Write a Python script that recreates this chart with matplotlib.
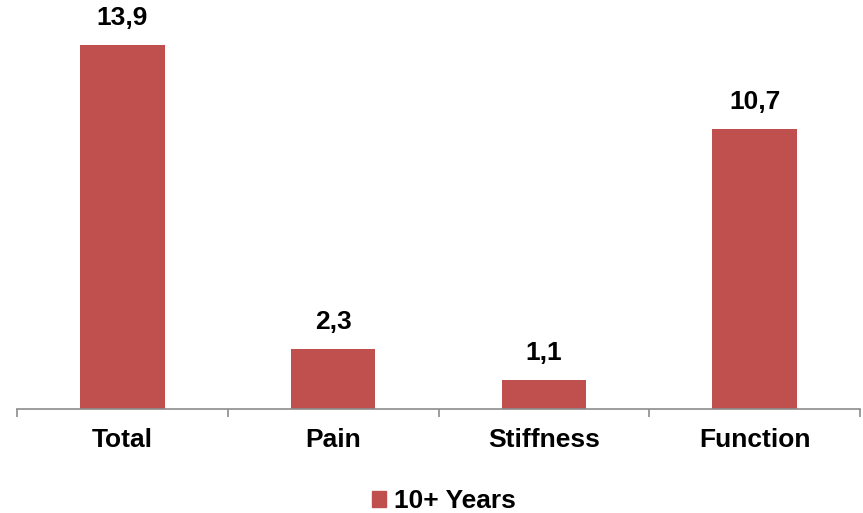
import matplotlib.pyplot as plt
from matplotlib.patches import Patch

plt.rcParams['font.family'] = ['Liberation Sans', 'DejaVu Sans']

# --- data ---
categories = ["Total", "Pain", "Stiffness", "Function"]
values = [13.9, 2.3, 1.1, 10.7]
series_name = "10+ Years"
bar_color = "#C0504D"
axis_color = "#8C8C8C"
FS = 19

fig = plt.figure(figsize=(8.63, 5.13), dpi=100)
ax = fig.add_axes([17 / 863, 104 / 513, 843 / 863, 409 / 513])

x = range(len(categories))
bars = ax.bar(x, values, width=0.4, color=bar_color)

# value labels above bars, decimal comma
for b, v in zip(bars, values):
    ax.annotate(f"{v:.1f}".replace(".", ","),
                (b.get_x() + b.get_width() / 2, b.get_height()),
                xytext=(0, 14.4), textcoords="offset points",
                ha="center", va="baseline", fontsize=FS, fontweight="bold")

ax.set_xlim(-0.5, len(categories) - 0.5)
ax.set_ylim(0, 15.62)

# category boundary ticks on the baseline
ax.set_xticks([i - 0.5 for i in range(len(categories) + 1)])
ax.set_xticklabels([])
ax.set_xticks(list(x), minor=True)
ax.set_xticklabels(categories, minor=True, fontsize=FS, fontweight="bold")
ax.tick_params(axis="x", which="major", length=6, width=1.2, color=axis_color, direction="out")
ax.tick_params(axis="x", which="minor", length=0, pad=14)
ax.set_yticks([])

for s in ["top", "right", "left"]:
    ax.spines[s].set_visible(False)
ax.spines["bottom"].set_color(axis_color)
ax.spines["bottom"].set_linewidth(1.2)

fig.legend(handles=[Patch(color=bar_color, label=series_name)],
           loc="center", bbox_to_anchor=(444 / 863, 12 / 513),
           frameon=False, prop={"size": FS, "weight": "bold"},
           handlelength=0.55, handleheight=0.55, handletextpad=0.3)

fig.savefig("out.png", dpi=100)
